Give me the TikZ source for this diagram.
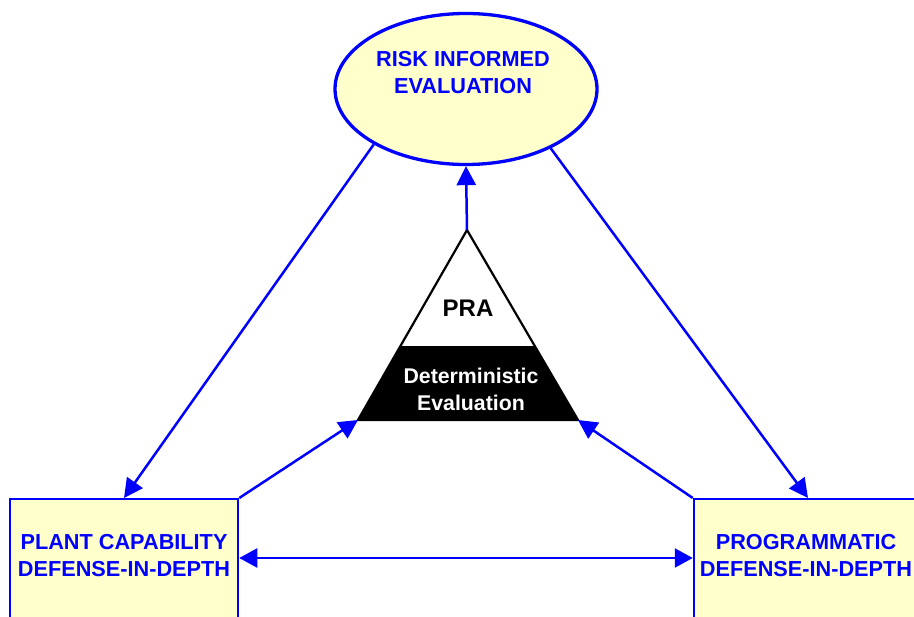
\documentclass[tikz,border=0pt]{standalone}
\usepackage{fontspec}
\setmainfont{Liberation Sans}
\usetikzlibrary{arrows.meta,shapes.geometric,calc}
\definecolor{linkblue}{RGB}{0,0,255}
\definecolor{paleyellow}{RGB}{255,255,204}
\begin{document}
\begin{tikzpicture}[x=1pt,y=-1pt,
  conn/.style={draw=linkblue, line width=2.5pt, -{Triangle[length=19pt,width=19pt]}},
  both/.style={draw=linkblue, line width=2.5pt, {Triangle[length=18pt,width=19pt]}-{Triangle[length=18pt,width=19pt]}},
  bluetext/.style={font=\bfseries\fontsize{21.7}{27}\selectfont, text=linkblue, align=center, inner sep=0pt},
  panel/.style={draw=linkblue, fill=paleyellow, line width=2.5pt, minimum width=228pt, minimum height=170pt, inner sep=0pt, anchor=north},
]
\clip (0,0) rectangle (914,617);

% top ellipse
\node[ellipse, draw=linkblue, fill=paleyellow, line width=3.3pt,
      minimum width=262pt, minimum height=151pt] (risk) at (466,89) {};
\node[bluetext] (risktext) at (463,73) {RISK INFORMED\\EVALUATION};

% bottom panels
\node[panel] (plantbox) at (124,498) {};
\node[panel] (progbox) at (808,498) {};
\node[bluetext] (planttext) at (124,556) {PLANT CAPABILITY\\DEFENSE-IN-DEPTH};
\node[bluetext] (progtext) at (806,556) {PROGRAMMATIC\\DEFENSE-IN-DEPTH};

% central triangle
\coordinate (apex) at (467,230);
\coordinate (bl) at (358,420);
\coordinate (br) at (578,420);
\coordinate (dl) at ($(apex)!0.6158!(bl)$);
\coordinate (dr) at ($(apex)!0.6158!(br)$);
\fill[black] (dl) -- (bl) -- (br) -- (dr) -- cycle;
\draw[black, line width=2.2pt, line join=miter] (apex) -- (bl) -- (br) -- cycle;
\draw[black, line width=1.5pt] (dl) -- (dr);
\node[font=\bfseries\fontsize{24}{28}\selectfont, inner sep=0pt] (pra) at (468,308) {PRA};
\node[font=\bfseries\fontsize{21.3}{27}\selectfont, text=white, align=center, inner sep=0pt] (det) at (471,389) {Deterministic\\Evaluation};

% connectors
\coordinate (mid) at (466,558);
\draw[conn] (apex) -- (risk.south);
\draw[conn] (risk.211) -- (plantbox.north);
\draw[conn] (risk.325) -- (progbox.north);
\draw[conn] (plantbox.north east) -- (bl);
\draw[conn] (progbox.north west) -- (br);
\draw[both] (plantbox.east |- mid) -- (progbox.west |- mid);
\end{tikzpicture}
\end{document}
